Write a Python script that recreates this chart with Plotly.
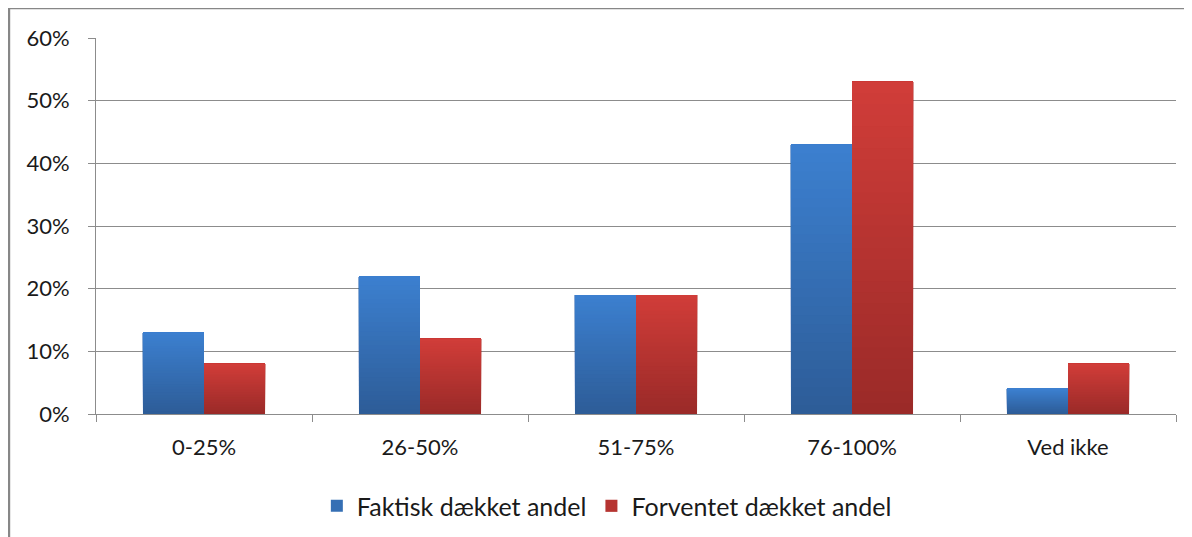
import plotly.graph_objects as go

# data
categories = ["0-25%", "26-50%", "51-75%", "76-100%", "Ved ikke"]
faktisk = [0.13, 0.22, 0.19, 0.43, 0.04]
forventet = [0.08, 0.12, 0.19, 0.53, 0.08]
y_ticks = [0, 0.1, 0.2, 0.3, 0.4, 0.5, 0.6]
y_labels = ["0%", "10%", "20%", "30%", "40%", "50%", "60%"]

FONT = "Lato, 'Open Sans', sans-serif"
GRID = "#8c8c8c"
N_STEPS = 30  # layers per bar to fake the Excel-style vertical gradient


def mix(c1, c2, t):
    a = [int(c1[i:i + 2], 16) for i in (1, 3, 5)]
    b = [int(c2[i:i + 2], 16) for i in (1, 3, 5)]
    return "rgb(%d,%d,%d)" % tuple(round(a[j] + (b[j] - a[j]) * t) for j in range(3))


def add_gradient_bars(fig, values, name, bottom, top, group):
    # each layer runs from its own base up to the bar top and is drawn over
    # the previous one, so no gaps show between the colour bands
    for k in range(N_STEPS):
        fig.add_trace(go.Bar(
            x=categories,
            y=[v * (1 - k / N_STEPS) for v in values],
            base=[v * k / N_STEPS for v in values],
            customdata=values,
            hovertemplate="%{x}: %{customdata:.0%}<extra>" + name + "</extra>",
            name=name,
            offsetgroup=group,
            legendgroup=group,
            showlegend=(k == N_STEPS // 2),
            marker=dict(color=mix(bottom, top, (k + 0.5) / N_STEPS), line=dict(width=0)),
        ))


fig = go.Figure()
add_gradient_bars(fig, faktisk, "Faktisk dækket andel", "#2D5C97", "#3C80D0", "a")
add_gradient_bars(fig, forventet, "Forventet dækket andel", "#9A2A28", "#D13D39", "b")

# the page body keeps an 8px default margin, so the figure is laid out 8px up/left
fig.update_layout(
    width=1192, height=537,
    margin=dict(l=88, r=24, t=30, b=131, autoexpand=False),
    paper_bgcolor="white", plot_bgcolor="white",
    barmode="group", bargap=0.435, bargroupgap=0,
    font=dict(family=FONT, size=22, color="#1a1a1a"),
    legend=dict(
        orientation="h", x=0.473, xanchor="center", y=-0.245, yanchor="middle",
        font=dict(size=25), itemwidth=30, traceorder="normal",
    ),
    # frame around the chart, cut by the canvas on the right and bottom
    shapes=[dict(
        type="rect", xref="paper", yref="paper",
        x0=-0.0806, x1=1.2, y0=-0.5, y1=1.0798,
        line=dict(color="#878787", width=2.5), fillcolor="rgba(0,0,0,0)",
        layer="below",
    )],
)

fig.update_xaxes(
    type="category", tickson="boundaries", ticks="outside", ticklen=7,
    tickcolor=GRID, showline=True, linecolor=GRID, linewidth=1,
    showgrid=False, ticklabelstandoff=14, tickfont=dict(size=22),
    automargin=False,
)
fig.update_yaxes(
    range=[0, 0.6], tickvals=y_ticks, ticktext=y_labels,
    ticks="outside", ticklen=7, tickcolor=GRID,
    showline=True, linecolor=GRID, linewidth=1,
    showgrid=True, gridcolor=GRID, gridwidth=1.3,
    zeroline=False, ticklabelstandoff=14, tickfont=dict(size=22),
    automargin=False,
)

fig.write_html("out.html")
